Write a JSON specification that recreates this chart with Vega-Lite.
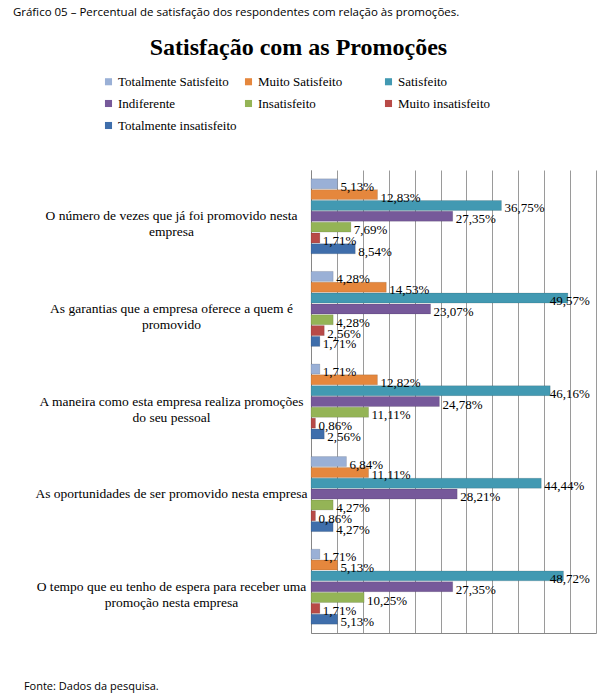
{
  "$schema": "https://vega.github.io/schema/vega-lite/v6.json",
  "background": "white",
  "padding": {"left": 12, "top": 6, "right": 5, "bottom": 5},
  "title": {
    "text": "Gráfico 05 – Percentual de satisfação dos respondentes com relação às promoções.",
    "anchor": "start",
    "frame": "bounds",
    "font": "Open Sans",
    "fontSize": 11.5,
    "fontWeight": "normal",
    "color": "#000000",
    "dx": -11,
    "offset": 18
  },
  "datasets": {
    "respostas": [
      {"questao": "O número de vezes que já foi promovido nesta|empresa", "nivel": "Totalmente Satisfeito", "valor": 5.13},
      {"questao": "O número de vezes que já foi promovido nesta|empresa", "nivel": "Muito Satisfeito", "valor": 12.83},
      {"questao": "O número de vezes que já foi promovido nesta|empresa", "nivel": "Satisfeito", "valor": 36.75},
      {"questao": "O número de vezes que já foi promovido nesta|empresa", "nivel": "Indiferente", "valor": 27.35},
      {"questao": "O número de vezes que já foi promovido nesta|empresa", "nivel": "Insatisfeito", "valor": 7.69},
      {"questao": "O número de vezes que já foi promovido nesta|empresa", "nivel": "Muito insatisfeito", "valor": 1.71},
      {"questao": "O número de vezes que já foi promovido nesta|empresa", "nivel": "Totalmente insatisfeito", "valor": 8.54},
      {"questao": "As garantias que a empresa oferece a quem é|promovido", "nivel": "Totalmente Satisfeito", "valor": 4.28},
      {"questao": "As garantias que a empresa oferece a quem é|promovido", "nivel": "Muito Satisfeito", "valor": 14.53},
      {"questao": "As garantias que a empresa oferece a quem é|promovido", "nivel": "Satisfeito", "valor": 49.57},
      {"questao": "As garantias que a empresa oferece a quem é|promovido", "nivel": "Indiferente", "valor": 23.07},
      {"questao": "As garantias que a empresa oferece a quem é|promovido", "nivel": "Insatisfeito", "valor": 4.28},
      {"questao": "As garantias que a empresa oferece a quem é|promovido", "nivel": "Muito insatisfeito", "valor": 2.56},
      {"questao": "As garantias que a empresa oferece a quem é|promovido", "nivel": "Totalmente insatisfeito", "valor": 1.71},
      {"questao": "A maneira como esta empresa realiza promoções|do seu pessoal", "nivel": "Totalmente Satisfeito", "valor": 1.71},
      {"questao": "A maneira como esta empresa realiza promoções|do seu pessoal", "nivel": "Muito Satisfeito", "valor": 12.82},
      {"questao": "A maneira como esta empresa realiza promoções|do seu pessoal", "nivel": "Satisfeito", "valor": 46.16},
      {"questao": "A maneira como esta empresa realiza promoções|do seu pessoal", "nivel": "Indiferente", "valor": 24.78},
      {"questao": "A maneira como esta empresa realiza promoções|do seu pessoal", "nivel": "Insatisfeito", "valor": 11.11},
      {"questao": "A maneira como esta empresa realiza promoções|do seu pessoal", "nivel": "Muito insatisfeito", "valor": 0.86},
      {"questao": "A maneira como esta empresa realiza promoções|do seu pessoal", "nivel": "Totalmente insatisfeito", "valor": 2.56},
      {"questao": "As oportunidades de ser promovido nesta empresa", "nivel": "Totalmente Satisfeito", "valor": 6.84},
      {"questao": "As oportunidades de ser promovido nesta empresa", "nivel": "Muito Satisfeito", "valor": 11.11},
      {"questao": "As oportunidades de ser promovido nesta empresa", "nivel": "Satisfeito", "valor": 44.44},
      {"questao": "As oportunidades de ser promovido nesta empresa", "nivel": "Indiferente", "valor": 28.21},
      {"questao": "As oportunidades de ser promovido nesta empresa", "nivel": "Insatisfeito", "valor": 4.27},
      {"questao": "As oportunidades de ser promovido nesta empresa", "nivel": "Muito insatisfeito", "valor": 0.86},
      {"questao": "As oportunidades de ser promovido nesta empresa", "nivel": "Totalmente insatisfeito", "valor": 4.27},
      {"questao": "O tempo que eu tenho de espera para receber uma|promoção nesta empresa", "nivel": "Totalmente Satisfeito", "valor": 1.71},
      {"questao": "O tempo que eu tenho de espera para receber uma|promoção nesta empresa", "nivel": "Muito Satisfeito", "valor": 5.13},
      {"questao": "O tempo que eu tenho de espera para receber uma|promoção nesta empresa", "nivel": "Satisfeito", "valor": 48.72},
      {"questao": "O tempo que eu tenho de espera para receber uma|promoção nesta empresa", "nivel": "Indiferente", "valor": 27.35},
      {"questao": "O tempo que eu tenho de espera para receber uma|promoção nesta empresa", "nivel": "Insatisfeito", "valor": 10.25},
      {"questao": "O tempo que eu tenho de espera para receber uma|promoção nesta empresa", "nivel": "Muito insatisfeito", "valor": 1.71},
      {"questao": "O tempo que eu tenho de espera para receber uma|promoção nesta empresa", "nivel": "Totalmente insatisfeito", "valor": 5.13}
    ]
  },
  "vconcat": [
    {
      "title": {
        "text": "Fonte: Dados da pesquisa.",
        "orient": "bottom",
        "anchor": "start",
        "frame": "bounds",
        "font": "Open Sans",
        "fontSize": 11,
        "fontWeight": "normal",
        "color": "#000000",
        "dx": -11,
        "offset": 48
      },
      "vconcat": [
        {
          "title": {
            "text": "Satisfação com as Promoções",
            "anchor": "middle",
            "frame": "bounds",
            "font": "Liberation Serif",
            "fontSize": 24,
            "fontWeight": "bold",
            "color": "#000000",
            "offset": 110,
            "dx": -17
          },
          "width": 285,
          "height": 463,
          "data": {"name": "respostas"},
          "transform": [
            {"calculate": "replace(format(datum.valor, '.2f'), '.', ',') + '%'", "as": "rotulo"},
            {"calculate": "min(datum.valor, 45.5)", "as": "posRotulo"}
          ],
          "encoding": {
            "y": {
              "field": "questao",
              "type": "nominal",
              "sort": null,
              "scale": {"paddingInner": 0.19, "paddingOuter": 0.095},
              "axis": {
                "title": null,
                "labelExpr": "split(datum.value, '|')",
                "labelAlign": "center",
                "labelBaseline": "middle",
                "labelPadding": 140,
                "labelLimit": 300,
                "labelFont": "Liberation Serif",
                "labelFontSize": 13.5,
                "labelLineHeight": 16,
                "labelColor": "#000000",
                "ticks": false,
                "domainColor": "#868686"
              }
            },
            "yOffset": {
              "field": "nivel",
              "type": "nominal",
              "sort": ["Totalmente Satisfeito", "Muito Satisfeito", "Satisfeito", "Indiferente", "Insatisfeito", "Muito insatisfeito", "Totalmente insatisfeito"],
              "scale": {"paddingInner": 0.08}
            }
          },
          "layer": [
            {
              "mark": {"type": "bar", "stroke": "#00000033", "strokeWidth": 0.6},
              "encoding": {
                "x": {
                  "field": "valor",
                  "type": "quantitative",
                  "scale": {"domain": [0, 55], "nice": false},
                  "axis": {
                    "title": null,
                    "labels": false,
                    "ticks": false,
                    "tickCount": 11,
                    "grid": true,
                    "gridColor": "#9a9a9a",
                    "domainColor": "#868686"
                  }
                },
                "color": {
                  "field": "nivel",
                  "type": "nominal",
                  "scale": {
                    "domain": ["Totalmente Satisfeito", "Muito Satisfeito", "Satisfeito", "Indiferente", "Insatisfeito", "Muito insatisfeito", "Totalmente insatisfeito"],
                    "range": ["#9AB0D6", "#E5873D", "#4299B2", "#76599A", "#94B456", "#B84A47", "#3F6EAB"]
                  },
                  "legend": {
                    "title": null,
                    "orient": "none",
                    "legendX": -209,
                    "legendY": -95,
                    "direction": "horizontal",
                    "columns": 3,
                    "gridAlign": "all",
                    "columnPadding": 5,
                    "rowPadding": 8,
                    "symbolType": "square",
                    "symbolSize": 50,
                    "symbolStrokeWidth": 0,
                    "labelFont": "Liberation Serif",
                    "labelFontSize": 13,
                    "labelColor": "#000000",
                    "labelOffset": 3,
                    "labelLimit": 200
                  }
                }
              }
            },
            {
              "mark": {"type": "text", "align": "left", "baseline": "middle", "dx": 3, "dy": 3, "font": "Liberation Serif", "fontSize": 13, "color": "#000000"},
              "encoding": {
                "x": {
                  "field": "posRotulo",
                  "type": "quantitative",
                  "axis": {
                    "title": null,
                    "labels": false,
                    "ticks": false,
                    "tickCount": 11,
                    "grid": true,
                    "gridColor": "#9a9a9a",
                    "domainColor": "#868686"
                  }
                },
                "text": {"field": "rotulo", "type": "nominal"}
              }
            }
          ]
        }
      ]
    }
  ],
  "config": {
    "view": {"stroke": null}
  }
}
